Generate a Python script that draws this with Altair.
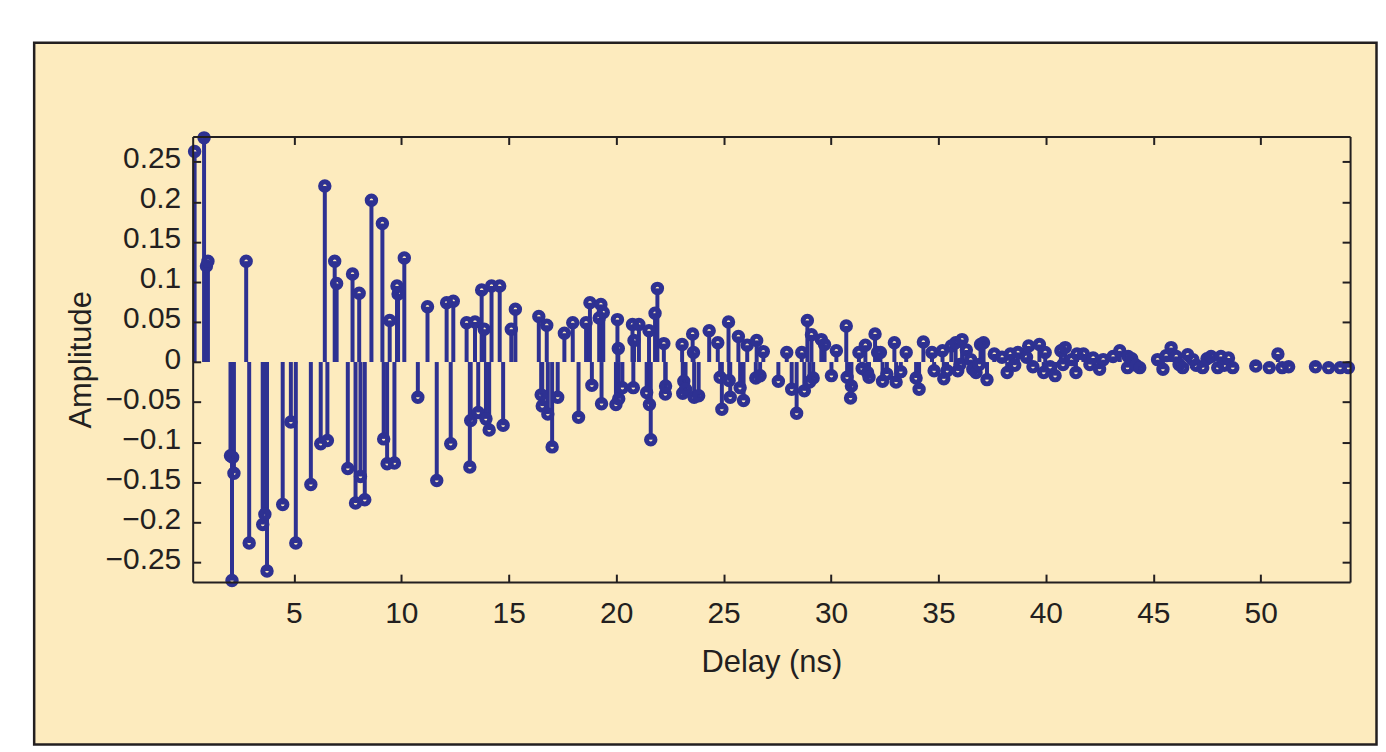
import altair as alt
import pandas as pd

# Delay (ns) and amplitude of each stem
delay_ns = [
    0.38, 0.82, 0.93, 1.0, 2.05, 2.12, 2.15, 2.21, 2.78, 2.92,
    3.55, 3.65, 3.75, 4.48, 4.86, 5.09, 5.79, 6.25, 6.44, 6.56,
    6.9, 6.99, 7.51, 7.73, 7.87, 8.04, 8.1, 8.3, 8.61, 9.12,
    9.18, 9.34, 9.46, 9.68, 9.8, 9.85, 10.14, 10.77, 11.22, 11.65,
    12.11, 12.3, 12.42, 13.04, 13.19, 13.23, 13.43, 13.58, 13.74, 13.86,
    13.94, 14.09, 14.2, 14.58, 14.74, 15.12, 15.31, 16.4, 16.51, 16.56,
    16.77, 16.82, 17.02, 17.28, 17.59, 17.98, 18.25, 18.6, 18.78, 18.87,
    19.21, 19.29, 19.32, 19.4, 19.99, 20.06, 20.1, 20.12, 20.29, 20.76,
    20.8, 20.83, 21.06, 21.42, 21.53, 21.55, 21.61, 21.81, 21.92, 22.22,
    22.29, 22.3, 23.07, 23.1, 23.15, 23.23, 23.56, 23.6, 23.63, 23.84,
    24.33, 24.73, 24.84, 24.92, 25.23, 25.26, 25.31, 25.69, 25.77, 25.93,
    26.1, 26.5, 26.54, 26.7, 26.85, 27.55, 27.94, 28.17, 28.4, 28.64,
    28.76, 28.9, 29.0, 29.09, 29.17, 29.55, 29.7, 30.02, 30.25, 30.71,
    30.75, 30.91, 30.95, 31.3, 31.45, 31.6, 31.7, 31.77, 32.05, 32.17,
    32.3, 32.4, 32.6, 32.95, 33.03, 33.25, 33.5, 33.96, 34.1, 34.3,
    34.7, 34.8, 35.19, 35.25, 35.4, 35.6, 35.8, 35.9, 36.0, 36.1,
    36.3, 36.5, 36.6, 36.75, 36.9, 36.96, 37.1, 37.26, 37.6, 37.96,
    38.2, 38.35, 38.55, 38.7, 39.1, 39.2, 39.4, 39.7, 39.9, 39.97,
    40.2, 40.43, 40.7, 40.8, 40.9, 41.2, 41.4, 41.45, 41.75, 42.05,
    42.2, 42.5, 42.67, 43.13, 43.44, 43.8, 43.83, 44.0, 44.2, 44.37,
    45.2, 45.45, 45.6, 45.83, 46.07, 46.2, 46.37, 46.6, 46.84, 47.0,
    47.3, 47.5, 47.69, 48.0, 48.15, 48.3, 48.5, 48.7, 49.77, 50.4,
    50.8, 51.0, 51.3, 52.55, 53.16, 53.7, 54.08,
]
amplitude = [
    0.263, 0.280, 0.120, 0.126, -0.117, -0.273, -0.119, -0.139, 0.126, -0.226,
    -0.203, -0.190, -0.261, -0.178, -0.075, -0.226, -0.153, -0.102, 0.220, -0.098,
    0.126, 0.098, -0.133, 0.110, -0.176, 0.086, -0.143, -0.172, 0.202, 0.173,
    -0.096, -0.127, 0.052, -0.126, 0.095, 0.085, 0.130, -0.044, 0.069, -0.148,
    0.074, -0.102, 0.076, 0.049, -0.131, -0.073, 0.050, -0.063, 0.090, 0.041,
    -0.071, -0.085, 0.095, 0.095, -0.079, 0.041, 0.066, 0.057, -0.041, -0.055,
    0.046, -0.065, -0.106, -0.044, 0.036, 0.049, -0.069, 0.049, 0.074, -0.029,
    0.055, 0.072, -0.052, 0.062, -0.053, 0.053, 0.017, -0.046, -0.032, 0.047,
    -0.032, 0.027, 0.047, -0.038, 0.039, -0.053, -0.097, 0.061, 0.092, 0.023,
    -0.040, -0.030, 0.022, -0.039, -0.024, -0.034, 0.035, 0.012, -0.044, -0.042,
    0.039, 0.024, -0.019, -0.059, 0.050, -0.023, -0.044, 0.032, -0.032, -0.048,
    0.021, -0.020, 0.027, -0.017, 0.013, -0.024, 0.012, -0.034, -0.064, 0.012,
    -0.036, 0.052, -0.025, 0.034, -0.020, 0.028, 0.022, -0.017, 0.014, 0.045,
    -0.019, -0.045, -0.030, 0.012, -0.008, 0.021, -0.013, -0.019, 0.035, 0.012,
    0.012, -0.024, -0.015, 0.024, -0.025, -0.012, 0.012, -0.020, -0.034, 0.025,
    0.012, -0.011, 0.014, -0.021, -0.011, 0.020, 0.024, -0.011, -0.003, 0.028,
    0.015, 0.003, -0.009, -0.013, -0.003, 0.022, 0.024, -0.022, 0.010, 0.006,
    -0.013, 0.010, -0.004, 0.012, 0.006, 0.020, -0.006, 0.022, -0.013, 0.012,
    -0.006, -0.017, 0.014, -0.003, 0.018, 0.003, -0.013, 0.010, 0.010, -0.003,
    0.005, -0.009, 0.003, 0.007, 0.014, -0.007, 0.007, 0.004, -0.004, -0.007,
    0.003, -0.009, 0.008, 0.018, 0.007, -0.003, -0.007, 0.009, 0.003, -0.004,
    -0.007, 0.004, 0.007, -0.007, 0.007, -0.004, 0.005, -0.007, -0.005, -0.007,
    0.010, -0.007, -0.006, -0.006, -0.007, -0.007, -0.007,
]
x_ticks = [5, 10, 15, 20, 25, 30, 35, 40, 45, 50]
y_ticks = [-0.25, -0.2, -0.15, -0.1, -0.05, 0, 0.05, 0.1, 0.15, 0.2, 0.25]

BG = "#FDEBBE"
INK = "#231F20"
BLUE = "#2E3192"
FONT = "Liberation Sans"

df = pd.DataFrame({"delay": delay_ns, "amp": amplitude})

xscale = alt.Scale(domain=[0.29, 54.16], nice=False, zero=False)
yscale = alt.Scale(domain=[-0.2749, 0.2817], nice=False, zero=False)

common = dict(
    domainColor=INK, domainWidth=2, tickColor=INK, tickWidth=2,
    tickSize={"expr": "-8"}, grid=False, zindex=1,
    labelFont=FONT, labelFontSize=30, labelColor=INK,
    titleFont=FONT, titleFontSize=31, titleColor=INK, titleFontWeight="normal",
    labelOverlap=False,
)

frame = alt.Chart(pd.DataFrame({"f": [0]})).mark_rect(
    fill=BG, stroke=INK, strokeWidth=2.5
).encode(
    x=alt.value(-159), x2=alt.value(1187.5), y=alt.value(-94), y2=alt.value(610)
)

stems = alt.Chart(df).mark_rule(color=BLUE, strokeWidth=4).encode(
    x=alt.X("delay:Q", scale=xscale,
            axis=alt.Axis(orient="bottom", values=x_ticks, title="Delay (ns)",
                          labelPadding=25, titlePadding=19, **common)),
    y=alt.Y("amp:Q", scale=yscale,
            axis=alt.Axis(orient="left", values=y_ticks, title="Amplitude",
                          format="~g", labelPadding=20, titlePadding=8,
                          labelOffset=-3, **common)),
    y2=alt.datum(0),
)

points = alt.Chart(df).mark_point(
    shape="circle", filled=False, color=BLUE, size=72, strokeWidth=5, opacity=1
).encode(
    x=alt.X("delay:Q", scale=xscale,
            axis=alt.Axis(orient="top", values=x_ticks, labels=False, title=None, **common)),
    y=alt.Y("amp:Q", scale=yscale,
            axis=alt.Axis(orient="right", values=y_ticks, labels=False, title=None, **common)),
)

chart = alt.layer(frame, stems, points).resolve_axis(
    x="independent", y="independent"
).properties(
    width=1161, height=447, background="white",
    padding={"left": 24.25, "top": 31.75, "right": 0, "bottom": 0},
).configure_view(stroke=None)

chart.save("out.html", embed_options={"renderer": "svg", "actions": False})
